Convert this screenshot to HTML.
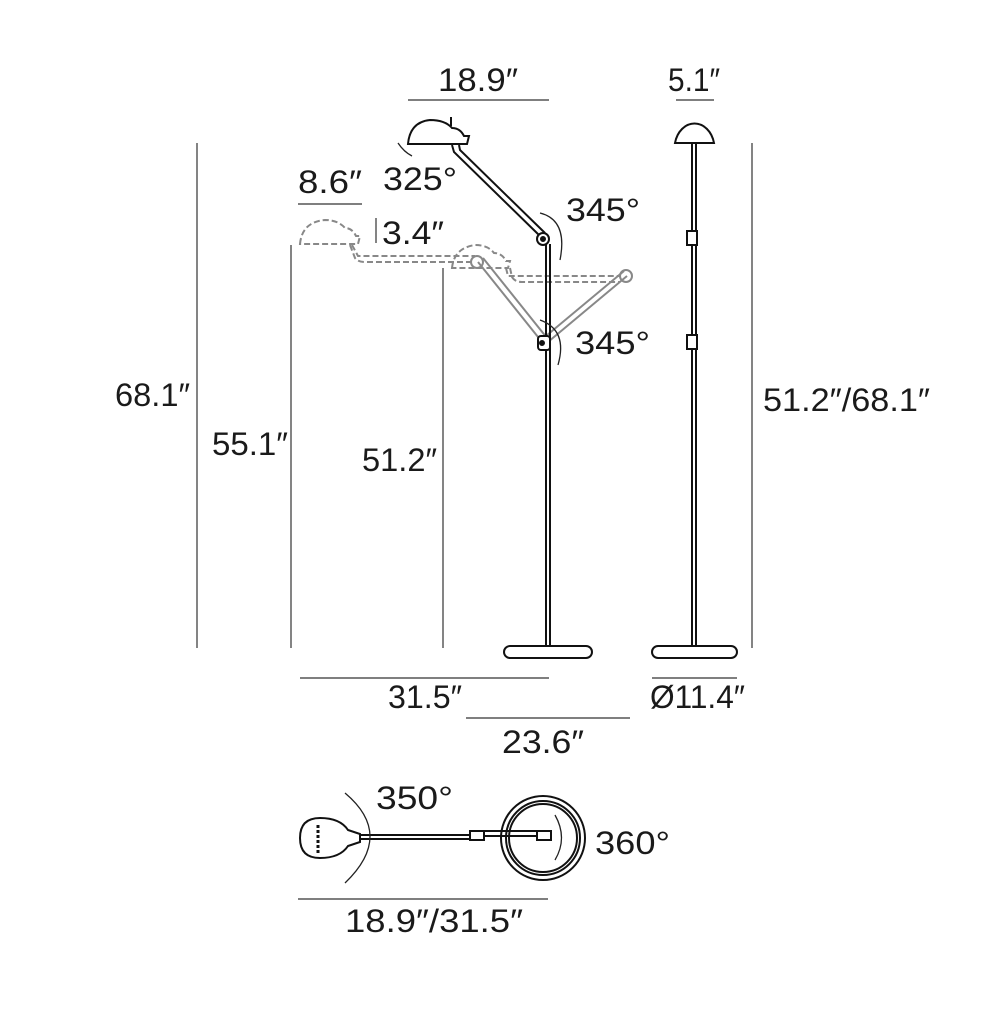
<!DOCTYPE html>
<html><head><meta charset="utf-8"><style>
html,body{margin:0;padding:0;background:#fff}
svg{display:block}
text{font-family:"Liberation Sans","DejaVu Sans",sans-serif;font-size:32px;fill:#1a1a1a}
</style></head><body>
<svg width="989" height="1024" viewBox="0 0 989 1024" xmlns="http://www.w3.org/2000/svg">
<g stroke="#333" stroke-width="1.2" fill="none">
<line x1="408" y1="100" x2="549" y2="100"/>
<line x1="676" y1="100" x2="714" y2="100"/>
<line x1="298" y1="204" x2="362" y2="204"/>
<line x1="376" y1="218" x2="376" y2="243"/>
<line x1="197" y1="143" x2="197" y2="648"/>
<line x1="291" y1="245" x2="291" y2="648"/>
<line x1="443" y1="268" x2="443" y2="648"/>
<line x1="752" y1="143" x2="752" y2="648"/>
<line x1="300" y1="678" x2="549" y2="678"/>
<line x1="652" y1="678" x2="737" y2="678"/>
<line x1="466" y1="718" x2="630" y2="718"/>
<line x1="298" y1="899" x2="548" y2="899"/>
</g>
<g stroke="#888" stroke-width="2" fill="none" stroke-dasharray="6,3">
<path d="M300 244 Q302 222 325 220 Q338 220 345 228 Q352 228 356 236 L360 236 L358 244 Z"/>
<path d="M350 245 L355 258 Q358 262 365 262 L475 262"/>
<path d="M352 245 L358 256 L475 256"/>
<path d="M452 268 Q454 248 475 245 Q488 245 494 253 Q502 253 506 261 L510 261 L508 268 Z"/>
<path d="M510 268 L512 277 Q515 282 522 282 L620 282"/>
<path d="M506 268 L508 276 L620 276"/>
</g>
<g stroke="#888" stroke-width="2" fill="none">
<line x1="478" y1="262" x2="542" y2="342"/>
<line x1="483" y1="258" x2="547" y2="338"/>
<line x1="627" y1="276" x2="548" y2="342"/>
<line x1="624" y1="271" x2="546" y2="336"/>
<circle cx="477" cy="262" r="6"/><circle cx="626" cy="276" r="6"/>
</g>
<g stroke="#111" stroke-width="2" fill="#fff">
<path d="M408 144 Q410 122 430 120 Q445 120 452 128 Q460 128 464 136 L469 136 L467 144 Z"/>
<line x1="451" y1="117" x2="451" y2="126"/>
<path d="M452 145 L454 152 L540 236 M459 145 L460 150 L545 233" fill="none"/>
<line x1="546" y1="244" x2="546" y2="646"/><line x1="550" y1="244" x2="550" y2="646"/>
<rect x="504" y="646" width="88" height="12" rx="6"/>
<circle cx="543" cy="239" r="6"/><circle cx="543" cy="239" r="2" fill="#111"/>
<rect x="538" y="336" width="12" height="14" rx="3"/><circle cx="542" cy="343" r="2" fill="#111"/>
<path d="M675 143 A20 25 0 0 1 714 143 Z"/>
<line x1="692" y1="143" x2="692" y2="646"/><line x1="696" y1="143" x2="696" y2="646"/>
<rect x="687" y="231" width="10" height="14"/><rect x="687" y="335" width="10" height="14"/>
<rect x="652" y="646" width="85" height="12" rx="6"/>
<circle cx="543" cy="838" r="42"/><circle cx="543" cy="838" r="37"/><circle cx="543" cy="838" r="34"/>
<path d="M360 835 L470 835 M360 839 L470 839 M480 831 L548 831 M480 836 L548 836" fill="none"/>
<rect x="470" y="831" width="14" height="9"/><rect x="537" y="831" width="14" height="9"/>
<path d="M320 818 Q300 818 300 838 Q300 858 320 858 Q340 858 348 846 L360 842 L360 834 L348 830 Q340 818 320 818 Z"/>
</g>
<line x1="318" y1="825" x2="318" y2="853" stroke="#111" stroke-width="3" stroke-dasharray="3,2"/>
<g stroke="#222" stroke-width="1.3" fill="none">
<path d="M398 143 Q404 152 412 156"/>
<path d="M540 213 Q568 220 560 260"/>
<path d="M540 320 Q568 330 558 365"/>
<path d="M345 793 Q395 835 345 883"/>
<path d="M555 815 Q568 838 555 860"/>
</g>
<text x="438" y="91" textLength="80" lengthAdjust="spacingAndGlyphs">18.9″</text>
<text x="668" y="91" textLength="52" lengthAdjust="spacingAndGlyphs">5.1″</text>
<text x="298" y="193" textLength="64" lengthAdjust="spacingAndGlyphs">8.6″</text>
<text x="382" y="244" textLength="62" lengthAdjust="spacingAndGlyphs">3.4″</text>
<text x="383" y="190" textLength="74" lengthAdjust="spacingAndGlyphs">325°</text>
<text x="566" y="221" textLength="74" lengthAdjust="spacingAndGlyphs">345°</text>
<text x="575" y="354" textLength="75" lengthAdjust="spacingAndGlyphs">345°</text>
<text x="115" y="406" textLength="75" lengthAdjust="spacingAndGlyphs">68.1″</text>
<text x="212" y="455" textLength="76" lengthAdjust="spacingAndGlyphs">55.1″</text>
<text x="362" y="471" textLength="75" lengthAdjust="spacingAndGlyphs">51.2″</text>
<text x="763" y="411" textLength="167" lengthAdjust="spacingAndGlyphs">51.2″/68.1″</text>
<text x="388" y="708" textLength="74" lengthAdjust="spacingAndGlyphs">31.5″</text>
<text x="650" y="708" textLength="95" lengthAdjust="spacingAndGlyphs">Ø11.4″</text>
<text x="502" y="753" textLength="82" lengthAdjust="spacingAndGlyphs">23.6″</text>
<text x="376" y="809" textLength="77" lengthAdjust="spacingAndGlyphs">350°</text>
<text x="595" y="854" textLength="75" lengthAdjust="spacingAndGlyphs">360°</text>
<text x="345" y="932" textLength="178" lengthAdjust="spacingAndGlyphs">18.9″/31.5″</text>
</svg>
</body></html>
